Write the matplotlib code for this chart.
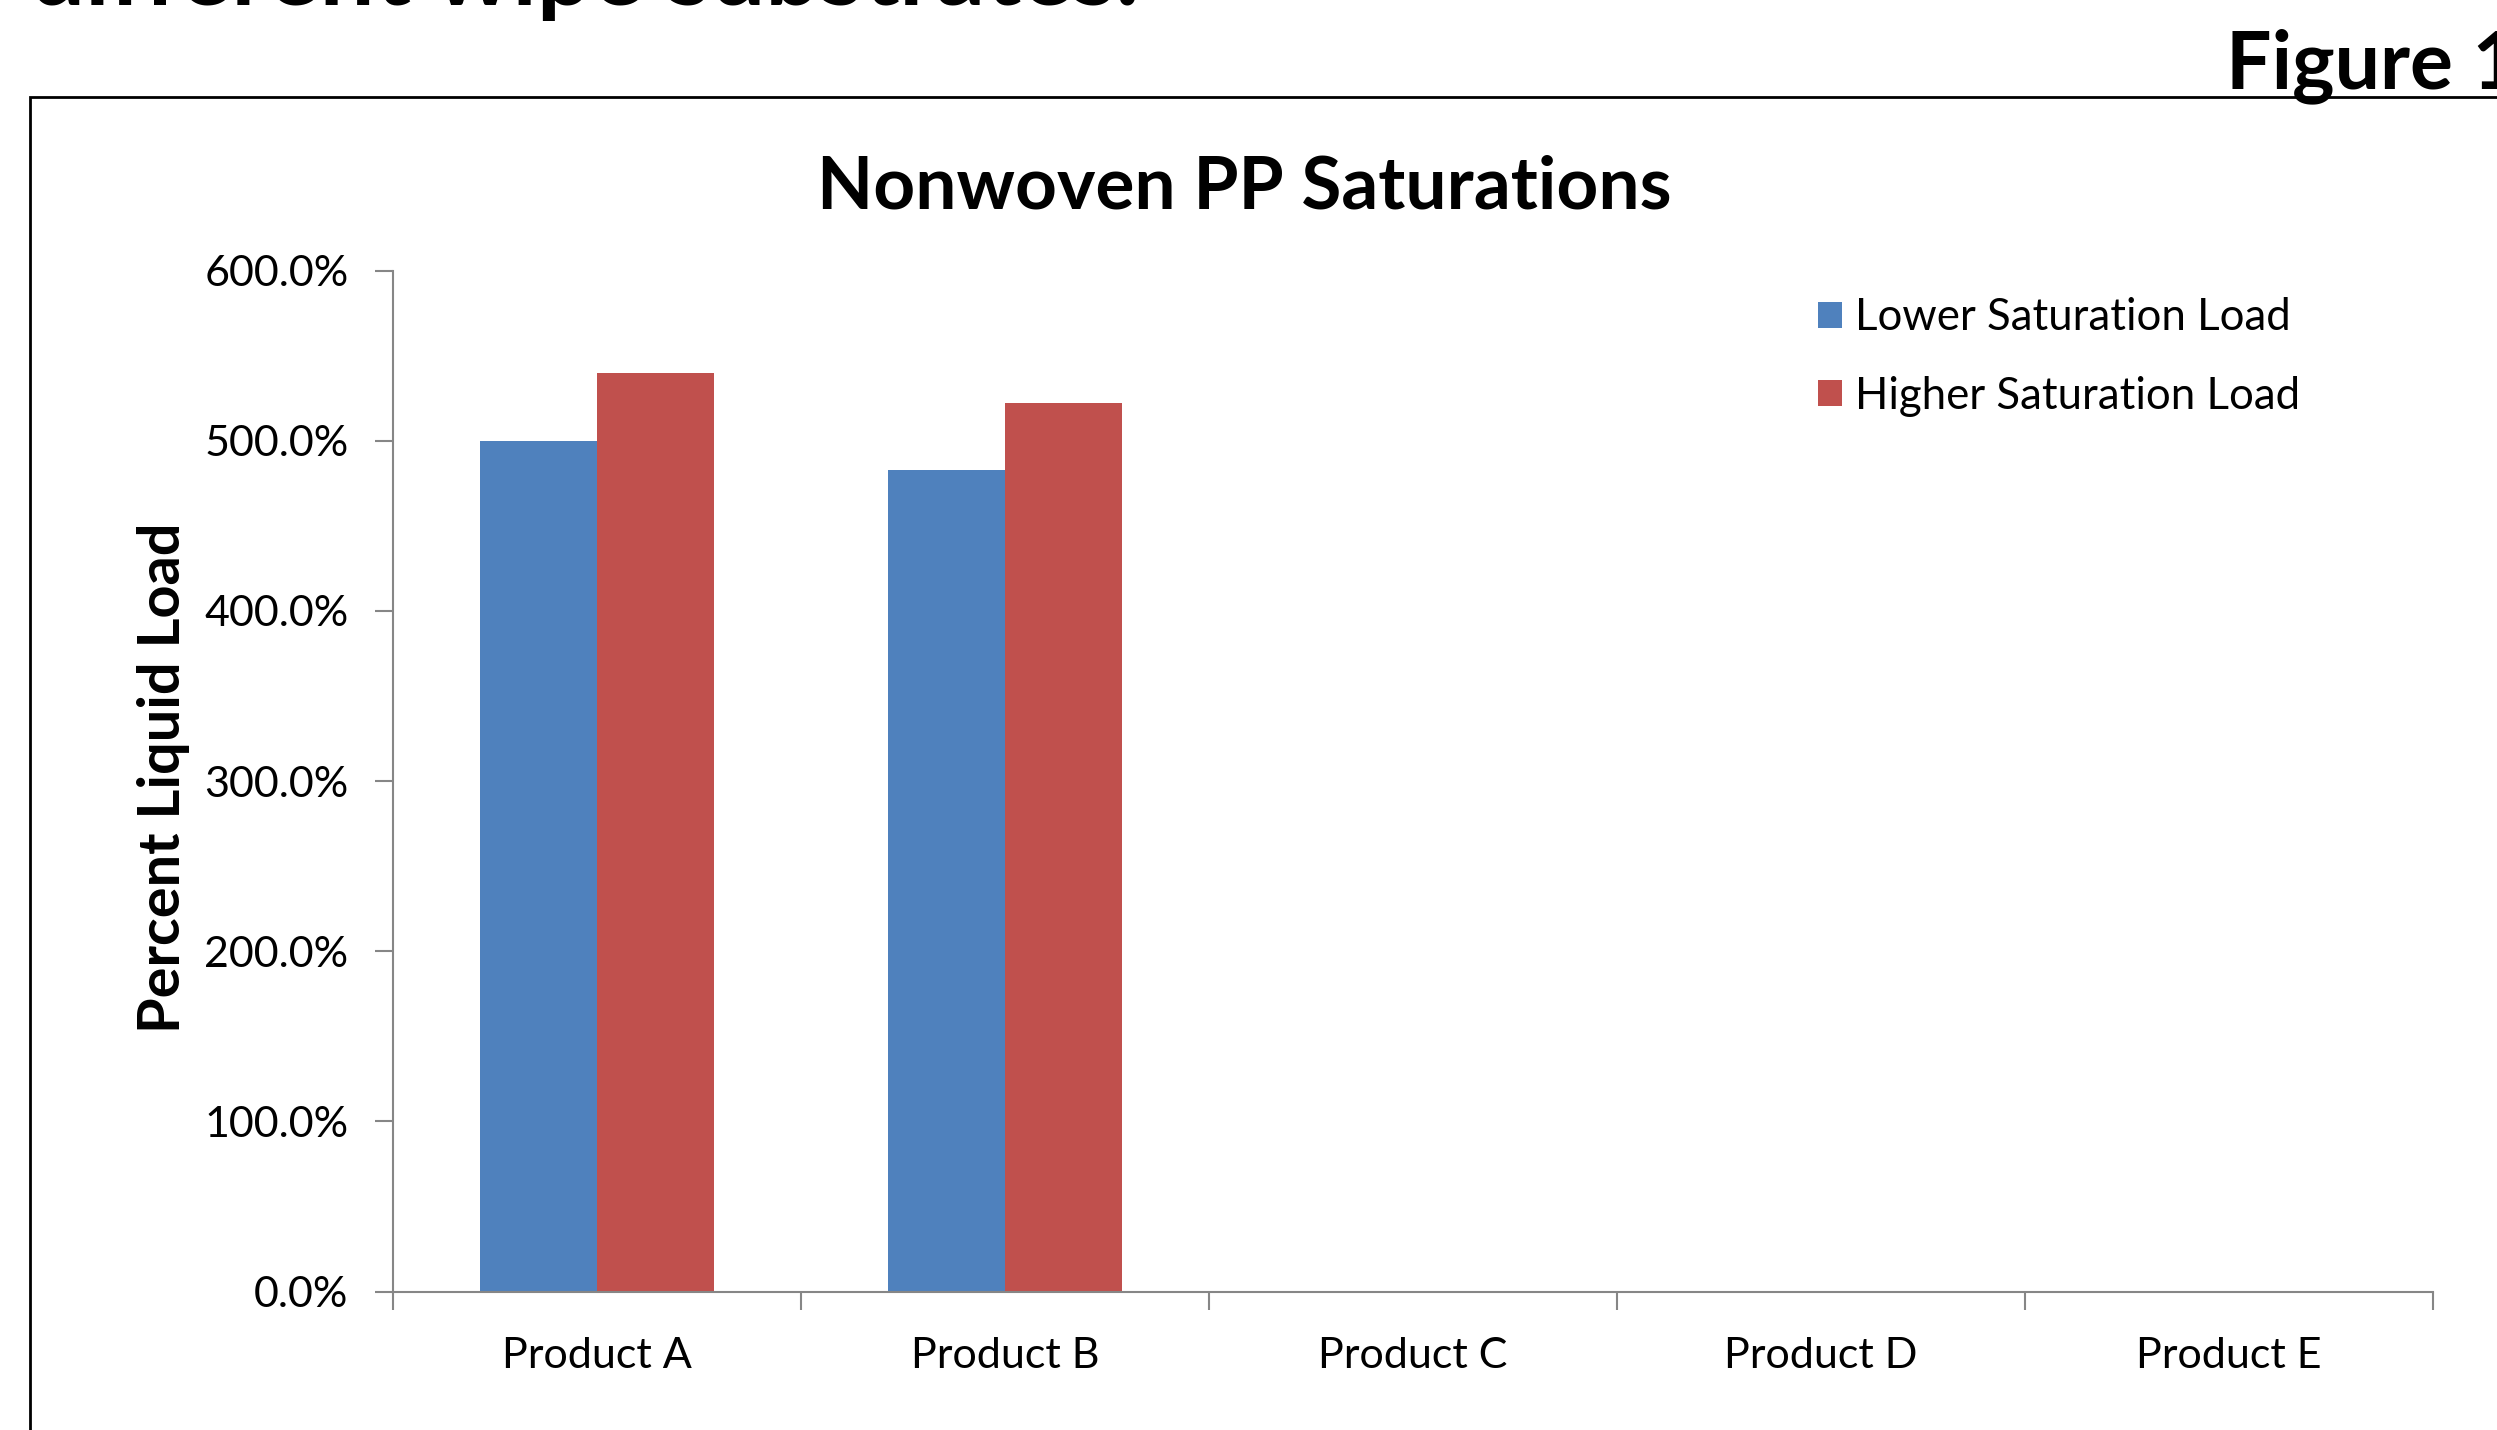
import matplotlib
matplotlib.use("Agg")
from matplotlib import pyplot as plt
from matplotlib.patches import Rectangle
import numpy as np

products = ["Product A", "Product B", "Product C", "Product D", "Product E"]
lower_load = [500.0, 483.0, 0, 0, 0]
higher_load = [540.0, 522.5, 0, 0, 0]
series_names = ["Lower Saturation Load", "Higher Saturation Load"]
y_ticks = [0, 100, 200, 300, 400, 500, 600]

plt.rcParams["font.family"] = ["Lato", "DejaVu Sans"]

W, H = 2497, 1430
fig = plt.figure(figsize=(W / 100, H / 100), dpi=100)

# outer frame of the figure box (cut off at right/bottom)
fig.patches.append(Rectangle((30 / W, -0.1), 1.2, 1 - 97 / H + 0.1,
                             transform=fig.transFigure, fill=False,
                             edgecolor="black", linewidth=2.0))

# cut-off heading text at the top
fig.text(30 / W, 1 - 5 / H, "different wipe substrates.", fontsize=70,
         fontweight="bold", ha="left", va="baseline")
fig.text(2226 / W, 1 - 88 / H, "Figure 1", fontsize=58, fontweight="bold",
         ha="left", va="baseline")

ax = fig.add_axes([393 / W, 1 - 1291.5 / H, (2433 - 393) / W, (1291.5 - 270.7) / H])

x = np.arange(len(products))
w = 1 / 3.5
ax.bar(x - w / 2, lower_load, width=w, color="#4F81BD", label=series_names[0])
ax.bar(x + w / 2, higher_load, width=w, color="#C0504D", label=series_names[1])

ax.set_xlim(-0.5, len(products) - 0.5)
ax.set_ylim(0, 600)
ax.set_yticks(y_ticks)
ax.set_yticklabels([f"{v:.1f}%" for v in y_ticks], fontsize=31)
ax.set_xticks(x)
ax.set_xticklabels(products, fontsize=31)
ax.set_xticks(np.arange(len(products) + 1) - 0.5, minor=True)
ax.tick_params(axis="x", which="major", length=0, pad=33)
ax.tick_params(axis="x", which="minor", length=13, width=1.5, color="#868686", direction="out")
ax.tick_params(axis="y", length=13, width=1.5, color="#868686", direction="out", pad=19)

for s in ["top", "right"]:
    ax.spines[s].set_visible(False)
for s in ["left", "bottom"]:
    ax.spines[s].set_color("#868686")
    ax.spines[s].set_linewidth(1.5)

fig.text(163 / W, 1 - 778 / H, "Percent Liquid Load", fontsize=41.5,
         fontweight="bold", rotation=90, ha="center", va="center")
fig.text(1244 / W, 1 - 188 / H, "Nonwoven PP Saturations", fontsize=52.5,
         fontweight="bold", ha="center", va="center")

ax.legend(loc="upper left", bbox_to_anchor=(1779 / W, 1 - 258 / H),
          bbox_transform=fig.transFigure, frameon=False, fontsize=31.5,
          handlelength=0.55, handleheight=0.55, handletextpad=0.29, labelspacing=0.85)

fig.savefig("out.png", dpi=100)
